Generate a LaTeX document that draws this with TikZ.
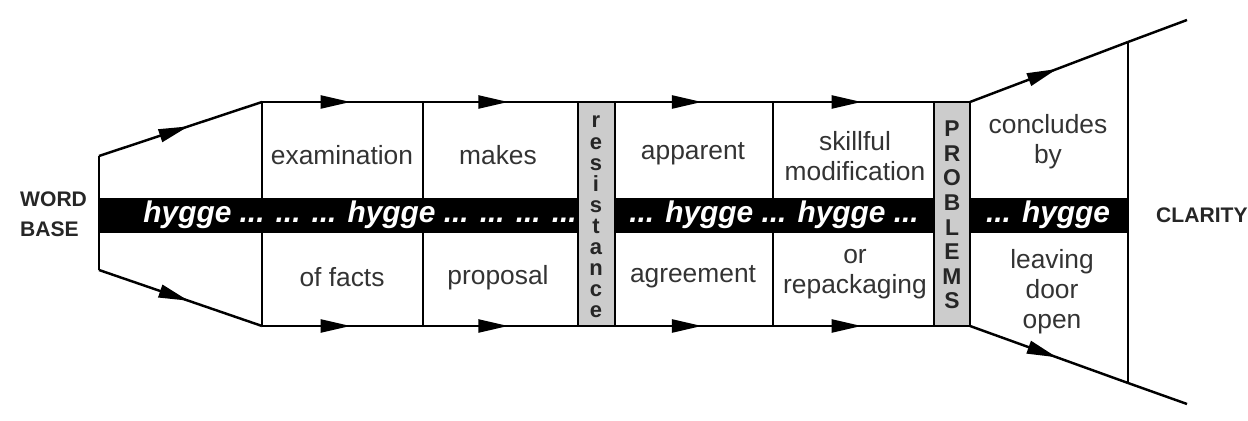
\documentclass[tikz,border=0pt]{standalone}
\usepackage{fontspec}
\setmainfont{Liberation Sans}
\usetikzlibrary{arrows.meta}
\usetikzlibrary{decorations.markings}
\usetikzlibrary{positioning}

\begin{document}
\begin{tikzpicture}[x=0.02cm,y=-0.02cm]
      \tikzstyle{every node}=[font=\fontsize{15}{17}\selectfont, text=black!80, align=center]
      \tikzstyle{wall}=[line width=1.4pt]
      \tikzstyle{flow}=[line width=1.4pt, decoration={markings, mark=at position 0.55 with {\arrow{Triangle[length=0.6cm,width=0.26cm]}}}, postaction={decorate}]
      \tikzstyle{bar}=[fill=black!20, draw=black, line width=0.9pt]
      \tikzstyle{bandtext}=[text=white, font=\fontsize{17}{17}\selectfont\bfseries\itshape]
      \tikzstyle{side}=[font=\fontsize{12}{17}\selectfont\bfseries, text=black!85, align=left, anchor=west]
      \tikzstyle{stack}=[text=black!85, inner sep=0pt]

      \useasboundingbox (0,0) rectangle (1248,421);

      % corners of the pipe
      \coordinate (lt) at (99,156);
      \coordinate (lb) at (99,270);
      \coordinate (c0) at (262,102);  \coordinate (d0) at (262,326);
      \coordinate (c1) at (423,102);  \coordinate (d1) at (423,326);
      \coordinate (c2) at (578,102);  \coordinate (d2) at (578,326);
      \coordinate (c3) at (615,102);  \coordinate (d3) at (615,326);
      \coordinate (c4) at (773,102);  \coordinate (d4) at (773,326);
      \coordinate (c5) at (934,102);  \coordinate (d5) at (934,326);
      \coordinate (c6) at (970,102);  \coordinate (d6) at (970,326);
      \coordinate (rt) at (1128,42);  \coordinate (rb) at (1128,383);
      \coordinate (et) at (1187,20);  \coordinate (eb) at (1187,404);

      % black band
      \fill[black] (99,198) rectangle (1128,233);

      % outline with arrows
      \draw[wall] (lt) -- (lb);
      \draw[flow] (lt) -- (c0);
      \draw[flow] (lb) -- (d0);
      \draw[flow] (c0) -- (c1);
      \draw[flow] (d0) -- (d1);
      \draw[flow] (c1) -- (c2);
      \draw[flow] (d1) -- (d2);
      \draw[flow] (c3) -- (c4);
      \draw[flow] (d3) -- (d4);
      \draw[flow] (c4) -- (c5);
      \draw[flow] (d4) -- (d5);
      \draw[flow] (c6) -- (rt);
      \draw[flow] (d6) -- (rb);
      \draw[wall] (rt) -- (et);
      \draw[wall] (rb) -- (eb);
      \draw[wall] (rt) -- (rb);
      \draw[wall] (c0) -- (d0);
      \draw[wall] (c1) -- (d1);
      \draw[wall] (c4) -- (d4);

      % grey bars
      \filldraw[bar] (c2) rectangle (d3);
      \filldraw[bar] (c5) rectangle (d6);
      \node[stack, font=\fontsize{12.5}{12}\selectfont\bfseries] (resist) at (596,217)
        {r\\e\\s\\i\\s\\t\\a\\n\\c\\e};
      \node[stack, font=\fontsize{13}{14}\selectfont\bfseries] (probs) at (952,215)
        {P\\R\\O\\B\\L\\E\\M\\S};

      % band text
      \node[bandtext] (h1) at (360,215) {hygge ... ... ... hygge ... ... ... ...};
      \node[bandtext] (h2) at (774,215) {... hygge ... hygge ...};
      \node[bandtext] (h3) at (1048,215) {... hygge};

      % cell text
      \node (exam) at (342,155) {examination};
      \node (facts) at (342,277) {of facts};
      \node (makes) at (498,155) {makes};
      \node (prop) at (498,278) {proposal};
      \node (appar) at (693,154) {apparent};
      \node (agree) at (693,277) {agreement};
      \node (modif) at (855,156) {skillful\\modification};
      \node (repack) at (855,274) {or\\repackaging};
      \node (concl) at (1048,142) {concludes\\by};
      \node (leave) at (1052,292) {leaving\\door\\open};

      % ends
      \node[side] (word) at (14,214) {WORD\\BASE};
      \node[side] (clar) at (1150,215) {CLARITY};
\end{tikzpicture}
\end{document}
